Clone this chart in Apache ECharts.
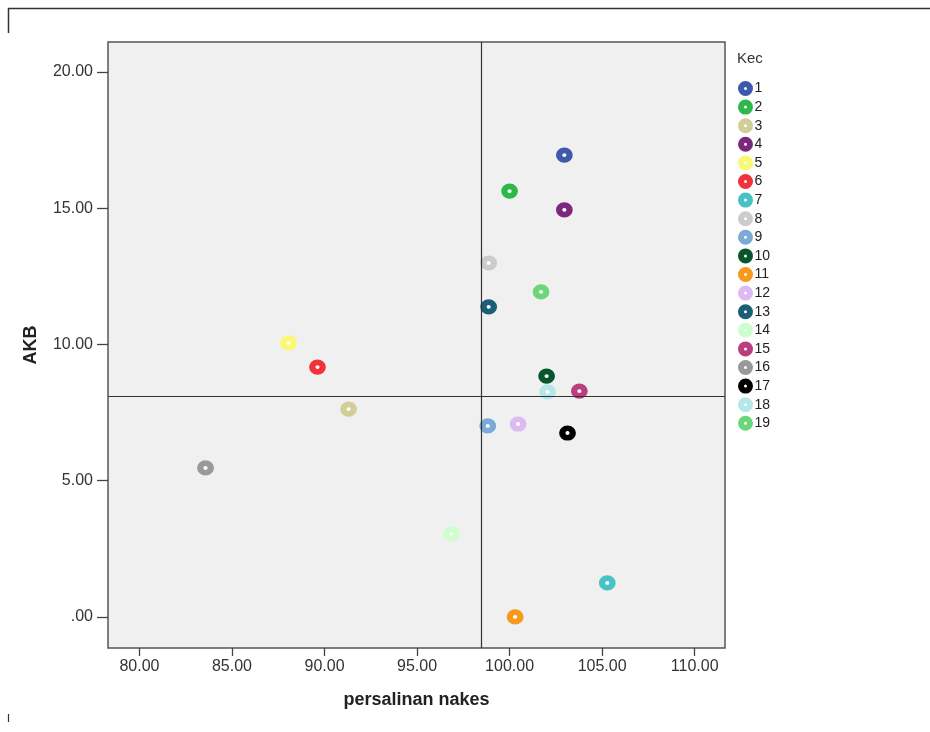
<!DOCTYPE html>
<html>
<head>
<meta charset="utf-8">
<script src="https://cdn.jsdelivr.net/npm/echarts@6/dist/echarts.min.js"></script>
<style>
html,body{margin:0;padding:0;background:#fff;}
#chart{width:930px;height:732px;}
</style>
</head>
<body>
<div id="chart"></div>
<script>
// ---- data ----
const categories = ['1','2','3','4','5','6','7','8','9','10','11','12','13','14','15','16','17','18','19'];
const persalinanNakes = [102.96, 100.0, 91.30, 102.96, 88.06, 89.62, 105.28, 98.87, 98.82, 102.0, 100.3, 100.46, 98.87, 96.86, 103.77, 83.57, 103.13, 102.05, 101.7];
const akb = [16.95, 15.63, 7.63, 14.94, 10.06, 9.17, 1.25, 12.99, 7.01, 8.84, 0.0, 7.08, 11.38, 3.05, 8.29, 5.47, 6.75, 8.26, 11.93];
const xTicks = [80, 85, 90, 95, 100, 105, 110];
const yTicks = [0, 5, 10, 15, 20];
const refX = [98.48];
const refY = [8.11];
const legendTitle = 'Kec';
const xName = 'persalinan nakes';
const yName = 'AKB';

// ---- style ----
const palette = ['#3E58AC','#2EB848','#D3CE97','#7C287D','#FBF873','#EF3338','#48C2C5','#CCCCCC','#7AAAD5','#0A562C','#F8981D','#DDBAF1','#1A5F76','#CCFFCC','#BB3F7F','#999999','#000000','#B6E7E8','#6CD67A'];
const labelFont = '"Liberation Sans", Arial, sans-serif';
const ellipse = 'path://M0,10 A10,10 0 1,1 20,10 A10,10 0 1,1 0,10 Z';

const chart = echarts.init(document.getElementById('chart'), null, {renderer: 'canvas'});

const series = categories.map((c, i) => ({
  name: c,
  type: 'scatter',
  data: [[persalinanNakes[i], akb[i]]],
  symbol: ellipse,
  symbolSize: [10.5, 9.5],
  itemStyle: {color: '#ffffff', borderColor: palette[i], borderWidth: 6, opacity: 1},
  emphasis: {disabled: true},
  z: 3
}));

series.push({
  name: '__ref',
  type: 'scatter',
  data: [],
  silent: true,
  markLine: {
    silent: true,
    symbol: 'none',
    label: {show: false},
    lineStyle: {color: '#333', width: 1.2, type: 'solid'},
    data: [{xAxis: refX[0]}, {yAxis: refY[0]}]
  },
  z: 2
});

chart.setOption({
  animation: false,
  backgroundColor: '#ffffff',
  grid: {
    left: 108, right: 205, top: 42, bottom: 84,
    show: true, backgroundColor: '#F0F0F0', borderColor: '#555', borderWidth: 1.5
  },
  xAxis: {
    type: 'value', min: 78.3, max: 111.64,
    name: xName, nameLocation: 'middle', nameGap: 43,
    nameTextStyle: {fontFamily: 'Liberation Sans, Arial, sans-serif', fontWeight: 'bold', fontSize: 18, color: '#222'},
    axisLine: {show: false, onZero: false},
    splitLine: {show: false},
    axisTick: {show: true, inside: false, length: 8, lineStyle: {color: '#444', width: 1.3}, customValues: xTicks},
    axisLabel: {customValues: xTicks, margin: 11, fontFamily: labelFont, fontSize: 16, color: '#333',
      formatter: v => v.toFixed(2)}
  },
  yAxis: {
    type: 'value', min: -1.14, max: 21.1,
    name: yName, nameLocation: 'middle', nameGap: 68, nameRotate: 90,
    nameTextStyle: {fontFamily: 'Liberation Sans, Arial, sans-serif', fontWeight: 'bold', fontSize: 18, color: '#222'},
    axisLine: {show: false, onZero: false},
    splitLine: {show: false},
    axisTick: {show: true, inside: false, length: 11, lineStyle: {color: '#444', width: 1.3}, customValues: yTicks},
    axisLabel: {customValues: yTicks, margin: 15, fontFamily: labelFont, fontSize: 16, color: '#333',
      formatter: v => v === 0 ? '.00' : v.toFixed(2)}
  },
  legend: {
    data: categories,
    orient: 'vertical',
    left: 733, top: 76,
    itemWidth: 12, itemHeight: 9, itemGap: 3.6,
    icon: ellipse,
    itemStyle: {color: '#ffffff', borderWidth: 6},
    textStyle: {fontFamily: 'Liberation Sans, Arial, sans-serif', fontSize: 14, color: '#222', padding: [0,0,0,-2]},
    selectedMode: false
  },
  graphic: [
    {type: 'text', left: 737, top: 51, style: {text: legendTitle, font: '15px "Liberation Sans", Arial, sans-serif', fill: '#333'}},
    {type: 'line', shape: {x1: 8, y1: 8.5, x2: 930, y2: 8.5}, style: {stroke: '#333', lineWidth: 1.5}},
    {type: 'line', shape: {x1: 8.5, y1: 8, x2: 8.5, y2: 33}, style: {stroke: '#333', lineWidth: 1.5}},
    {type: 'line', shape: {x1: 8.5, y1: 714, x2: 8.5, y2: 722}, style: {stroke: '#333', lineWidth: 1.2}}
  ],
  series: series
});
</script>
</body>
</html>
